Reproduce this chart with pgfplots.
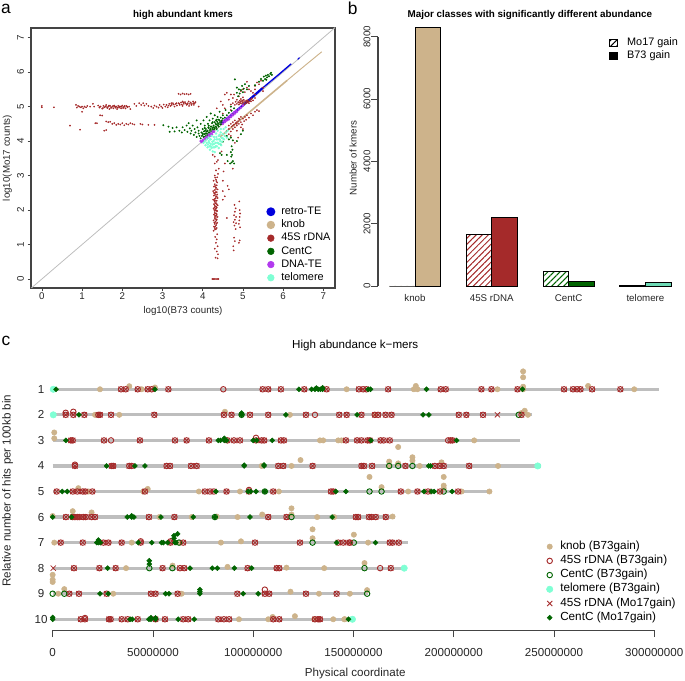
\documentclass[border=0pt]{standalone}
\usepackage{fontspec}
\setmainfont{Liberation Sans}
\usepackage{pgfplots}
\usepackage{pgfplotstable}
\pgfplotsset{compat=1.18}
\usetikzlibrary{patterns.meta}
\definecolor{cblue}{HTML}{0000DD}
\definecolor{cknob}{HTML}{CDB38B}
\definecolor{crdna}{HTML}{A52A2A}
\definecolor{ccent}{HTML}{006400}
\definecolor{cdna}{HTML}{B23AEE}
\definecolor{ctelo}{HTML}{7FFFD4}
\definecolor{cgrey}{HTML}{BEBEBE}
\definecolor{cax}{HTML}{444444}
\newcommand\fs[1]{\fontsize{#1}{#1}\selectfont}
\tikzset{hatch/.style={pattern={Lines[angle=45,distance=3.2pt,line width=0.75pt]}, pattern color=#1}}
\pgfplotsset{
  every axis title shift=0pt,
  bigleg/.style={legend image code/.code={\fill[#1] (0pt,0pt) circle (2.5pt);}},
  mkleg/.style={legend image code/.code={\draw[##1] plot coordinates {(0pt,0pt)};}},
  barb/.style={ybar, bar shift=0pt, bar width=19.2pt, forget plot, draw=black, line width=0.7pt},
  rdnao/.style={only marks, mark=o, mark size=2.05pt, line width=0.7pt, color=crdna},
  rdnax/.style={only marks, mark=x, mark size=2.75pt, line width=0.6pt, color=crdna},
  centd/.style={only marks, mark=square*, mark size=1.3pt, mark options={rotate=45}, color=ccent},
}
% panel c: positions in Mb, y = chromosome row (stacked hits sit above the row)
\pgfplotstableread[row sep=\\]{x y\\
34.1 1\\36.4 1\\42.4 1\\47.4 1\\49.4 1\\57.7 1\\104.7 1\\107.5 1\\113.8 1\\125.5 1\\136.6 1\\152.7 1\\154.8 1\\156.5 1\\167.3 1\\193.5 1\\196.0 1\\213.8 1\\218.8 1\\231.8 1\\255.0 1\\259.5 1\\261.5 1\\263.2 1\\269.0 1\\283.1 1\\
6.5 2\\10.3 2\\15.8 2\\22.8 2\\23.6 2\\29.1 2\\50.7 2\\85.4 2\\89.2 2\\98.4 2\\107.5 2\\126.3 2\\142.9 2\\146.6 2\\154.0 2\\160.6 2\\162.3 2\\166.0 2\\169.0 2\\202.5 2\\206.3 2\\214.6 2\\233.8 2\\
9.1 3\\10.0 3\\25.6 3\\43.5 3\\61.0 3\\66.8 3\\77.9 3\\87.2 3\\90.4 3\\93.4 3\\101.4 3\\104.2 3\\105.5 3\\113.8 3\\115.3 3\\146.2 3\\151.8 3\\154.0 3\\157.0 3\\158.2 3\\163.5 3\\165.1 3\\168.1 3\\198.4 3\\199.4 3\\
11.1 4\\29.4 4\\30.2 4\\38.2 4\\39.4 4\\56.8 4\\58.5 4\\69.0 4\\71.8 4\\112.5 4\\115.0 4\\129.6 4\\154.0 4\\155.2 4\\159.3 4\\175.9 4\\190.6 4\\193.0 4\\195.0 4\\207.7 4\\
2.0 5\\10.0 5\\12.3 5\\15.0 5\\16.3 5\\19.8 5\\46.0 5\\75.9 5\\78.4 5\\80.4 5\\86.7 5\\97.9 5\\110.0 5\\138.8 5\\139.9 5\\173.6 5\\181.9 5\\187.2 5\\193.2 5\\202.2 5\\
6.6 6\\10.0 6\\11.1 6\\12.3 6\\13.3 6\\15.3 6\\16.5 6\\19.4 6\\21.1 6\\48.0 6\\60.7 6\\107.5 6\\116.6 6\\151.2 6\\152.3 6\\157.8 6\\159.0 6\\161.1 6\\166.1 6\\
4.0 7\\15.0 7\\25.3 7\\27.8 7\\34.4 7\\43.9 7\\58.8 7\\65.1 7\\100.9 7\\123.3 7\\142.4 7\\144.9 7\\147.9 7\\148.2 7\\168.1 7\\169.5 7\\172.6 7\\
10.6 8\\23.3 8\\31.4 8\\54.8 8\\63.5 8\\65.6 8\\97.2 8\\111.7 8\\113.0 8\\168.6 8\\
8.3 9\\13.1 9\\26.9 9\\49.0 9\\51.3 9\\62.3 9\\92.1 9\\105.8 9\\108.0 9\\126.3 9\\141.6 9\\
14.0 10\\16.1 10\\28.1 10\\28.9 10\\34.4 10\\37.4 10\\42.4 10\\51.3 10\\56.0 10\\65.1 10\\67.6 10\\82.6 10\\85.4 10\\88.0 10\\110.0 10\\113.0 10\\130.8 10\\132.4 10\\133.3 10\\
}\rdnaboth
\begin{document}
\begin{tikzpicture}
\useasboundingbox (0,0) rectangle (513.75pt,510.75pt);
\node[font=\fs{13}] at (4.5pt,504pt) {a};
\node[font=\fs{13}] at (264.5pt,504.5pt) {b};
\node[font=\fs{13}] at (4.5pt,255pt) {c};

% ---------- panel a ----------
\begin{axis}[name=pa, at={(23.25pt,294.75pt)}, scale only axis, width=228pt, height=195pt,
  xmin=-0.27, xmax=7.29, ymin=-0.26, ymax=7.28,
  xtick={0,...,7}, ytick={0,...,7}, xtick pos=bottom, ytick pos=left, tick align=outside,
  major tick length=2.6pt, tick style={color=cax, line width=0.5pt},
  axis line style={color=cax, line width=1pt},
  /pgf/number format/assume math mode=true,
  ticklabel style={font=\fs{7.3}, text=black!85},
  yticklabel style={anchor=center, xshift=-5.25pt, rotate=90},
  xticklabel style={anchor=center, yshift=-3.5pt},
  title={\bfseries high abundant kmers}, title style={font=\fs{7.4}, at={(axis description cs:0.5,1.05)}, anchor=center},
  xlabel={log10(B73 counts)}, xlabel style={font=\fs{7.3}, text=black!85, at={(axis description cs:0.5,-0.088)}, anchor=center},
  ylabel={log10(Mo17 counts)}, ylabel style={font=\fs{7.3}, text=black!85, at={(axis description cs:-0.078,0.5)}, anchor=center},
  legend style={at={(axis description cs:0.7605,0.325)}, anchor=north west, draw=none, fill=none,
    font=\fs{8.2}, row sep=1.9pt, nodes={inner sep=0pt, text height=6pt, text depth=2pt},
    /tikz/column 1/.style={column sep=4.5pt}},
  legend cell align=left]
\addplot[color=cgrey, line width=0.6pt, forget plot] coordinates {(-0.3,-0.3) (7.3,7.3)};
% dense diagonals
\addplot[color=cblue, line width=1.6pt, bigleg=cblue] coordinates {(4.45,4.5) (4.8,4.84) (5.1,5.14) (5.5,5.55)};
\addlegendentry{retro-TE}
\addplot[color=cknob, line width=1.2pt, bigleg=cknob] coordinates {(4.43,4.12) (5.0,4.68) (5.6,5.27) (6.1,5.76)};
\addlegendentry{knob}
\addplot[color=cknob, line width=0.7pt, forget plot] coordinates {(6.1,5.76) (6.5,6.15) (6.96,6.59)};
\addplot[color=cblue, line width=1pt, forget plot] coordinates {(5.5,5.55) (5.9,5.94) (6.2,6.24)};
\addplot[color=cblue, line width=0.8pt, forget plot] coordinates {(6.36,6.37) (6.41,6.42)};
% 45S rDNA: long horizontal and vertical arms, clusters near the diagonal
\addplot[only marks, mark=*, mark size=0.42pt, color=crdna, bigleg=crdna] coordinates {
(0.0,5.02)(0.0,4.98)(0.3,4.98)(0.85,5.05)(0.87,4.97)(0.9,5.02)(0.93,5.0)(0.97,4.98)(1.0,5.0)(1.03,4.95)(1.06,5.0)(1.1,4.98)(1.13,5.02)
(1.2,5.0)(1.27,5.08)(1.3,5.0)(1.4,5.03)(1.43,4.97)(1.46,5.0)(1.5,4.94)(1.53,5.02)(1.56,4.98)(1.6,5.05)(1.63,4.96)(1.66,5.0)(1.68,4.93)(1.7,5.02)
(1.73,4.98)(1.76,5.0)(1.78,4.95)(1.8,5.03)(1.83,4.97)(1.85,5.0)(1.87,4.93)(1.9,5.02)(1.92,4.97)(1.95,5.0)(1.97,4.95)(2.0,5.03)(2.03,4.98)(2.05,5.0)
(2.08,4.95)(2.1,5.02)(2.13,4.98)(2.17,5.0)(2.2,4.93)(2.3,5.08)(2.35,5.02)(2.42,5.1)(2.47,5.05)(2.52,5.1)(2.55,5.03)(2.6,5.08)(2.65,5.02)(2.72,5.0)
(2.77,4.96)(2.8,5.03)(2.85,5.0)(2.9,4.97)(2.93,5.05)(2.97,5.0)(3.0,4.96)(3.03,5.06)(3.07,5.0)(3.1,5.05)(3.13,4.98)(3.17,5.08)(3.2,5.02)(3.23,5.05)
(3.26,5.1)(3.3,5.0)(3.33,5.08)(3.36,5.03)(3.4,5.1)(3.43,5.05)(3.46,5.12)(3.5,5.02)(3.53,5.08)(3.56,5.13)(3.6,5.05)(3.63,5.1)(3.66,5.02)(3.7,5.12)
(3.73,5.08)(3.76,5.15)(3.78,5.05)(3.8,5.1)(3.9,5.0)
(1.45,5.0)(1.52,4.96)(1.58,5.01)(1.62,4.99)(1.67,5.03)(1.72,4.96)(1.77,5.02)(1.82,5.0)(1.88,4.97)(1.93,5.0)(1.98,5.0)(2.02,4.96)(2.06,5.02)(2.12,5.0)
(3.15,5.03)(3.22,5.1)(3.28,5.06)(3.35,5.1)(3.42,5.08)(3.48,5.06)(3.52,5.12)(3.58,5.09)(3.62,5.07)(3.68,5.08)(3.72,5.05)(3.77,5.1)(3.82,5.13)(3.5,5.15)(3.65,5.15)
(3.4,5.37)(3.45,5.35)(3.5,5.38)(3.55,5.36)(3.6,5.37)(3.65,5.35)(3.7,5.37)
(1.45,4.75)(1.5,4.74)(1.33,4.52)(1.37,4.52)(1.6,4.57)(1.65,4.55)(1.7,4.56)(1.75,4.5)(1.8,4.52)(1.85,4.47)(1.9,4.5)(1.95,4.48)(2.0,4.52)(2.05,4.46)
(2.1,4.5)(2.15,4.48)(2.2,4.52)(2.25,4.5)(2.3,4.48)(2.45,4.5)(2.5,4.48)(2.65,4.47)(2.8,4.47)(1.55,4.3)(1.6,4.32)(0.95,4.33)(0.7,4.45)(1.0,4.85)
(4.25,3.6)(4.3,3.55)(4.35,3.4)(4.38,3.45)(4.3,3.35)(4.4,3.2)(4.33,3.15)(4.38,3.05)(4.3,3.0)(4.36,2.95)(4.33,2.88)(4.27,2.85)(4.36,2.8)(4.3,2.75)
(4.35,2.72)(4.28,2.68)(4.33,2.65)(4.37,2.6)(4.3,2.58)(4.26,2.55)(4.35,2.52)(4.3,2.48)(4.36,2.45)(4.28,2.42)(4.33,2.38)(4.37,2.35)(4.3,2.32)(4.26,2.3)
(4.35,2.27)(4.3,2.24)(4.33,2.2)(4.28,2.17)(4.37,2.14)(4.31,2.1)(4.35,2.07)(4.27,2.04)(4.32,2.0)(4.36,1.97)(4.3,1.94)(4.34,1.9)(4.28,1.87)(4.33,1.84)
(4.37,1.8)(4.3,1.77)(4.35,1.73)(4.27,1.7)(4.32,1.66)(4.36,1.63)(4.3,1.6)(4.33,1.56)(4.28,1.52)(4.35,1.48)(4.31,1.44)(4.27,1.4)(4.36,1.3)(4.31,1.22)
(4.35,1.15)(4.33,1.05)(4.37,0.95)(4.3,0.88)(4.35,0.8)(4.38,0.72)(4.32,0.62)(4.37,0.6)(4.24,0.0)(4.27,0.0)(4.3,0.0)(4.33,0.0)(4.36,0.0)(4.39,0.0)
(4.31,2.94)(4.34,2.84)(4.31,2.7)(4.33,2.61)(4.28,2.5)(4.32,2.52)(4.31,2.44)(4.35,2.4)(4.32,2.34)(4.29,2.27)(4.33,2.27)(4.31,2.2)(4.35,2.17)(4.3,2.14)
(4.33,2.1)(4.29,2.07)(4.33,2.04)(4.29,2.0)(4.34,1.98)(4.31,1.9)(4.35,1.86)(4.3,1.83)(4.33,1.8)(4.31,1.74)(4.34,1.7)(4.29,1.64)(4.34,1.6)(4.31,1.52)(4.33,1.45)(4.3,1.48)
(4.47,3.7)(4.55,3.35)(4.52,3.12)(4.75,3.2)(4.5,2.85)(4.62,2.7)(4.65,2.6)(4.5,2.55)(4.55,2.4)(4.5,2.3)(4.6,1.77)
(4.79,2.15)(4.82,2.05)(4.8,1.95)(4.78,1.85)(4.83,1.8)(4.8,1.72)(4.77,1.65)(4.83,1.62)(4.79,1.55)(4.82,1.45)(4.78,1.2)(4.8,1.1)(4.76,0.95)(4.77,0.83)
(4.91,2.25)(4.92,2.0)(4.93,1.9)(4.92,1.8)(4.91,1.7)(4.9,1.6)(4.93,1.5)(4.92,1.12)(4.9,1.05)
(4.7,5.06)(4.75,5.1)(4.8,5.05)(4.82,5.14)(4.85,5.08)(4.88,5.13)(4.9,5.06)(4.93,5.1)(4.95,5.15)(4.98,5.08)(5.0,5.12)(5.03,5.06)(5.05,5.16)(5.08,5.1)
(5.1,5.14)(5.12,5.18)(5.15,5.1)(5.18,5.2)(5.2,5.15)(5.22,5.24)(5.25,5.18)(5.3,5.25)(5.3,5.35)(4.95,5.22)(5.0,5.27)(4.85,5.2)(4.75,5.25)
(4.9,5.12)(4.95,5.1)(5.0,5.16)(5.05,5.1)(5.1,5.18)(5.15,5.15)(5.2,5.2)(4.92,5.17)(4.98,5.18)(5.02,5.2)(5.08,5.16)(5.12,5.12)
(4.55,5.35)(4.6,5.4)(4.65,5.2)(4.7,5.35)(4.45,5.15)(4.5,5.05)(4.9,5.3)(4.55,4.95)(4.7,4.9)(4.5,4.8)(4.35,4.95)(4.78,5.35)
(4.95,5.45)(5.0,5.5)(5.05,5.42)(5.1,5.55)(5.15,5.5)(5.2,5.45)(5.25,5.4)(5.3,5.6)(5.35,5.7)(5.4,5.65)(5.45,5.75)(5.5,5.55)(5.1,5.72)(5.3,5.5)(5.5,5.45)
(4.6,4.3)(4.65,4.35)(4.7,4.28)(4.72,4.42)(4.75,4.35)(4.78,4.48)(4.8,4.4)(4.82,4.52)(4.85,4.45)(4.88,4.58)(4.9,4.5)(4.92,4.62)(4.95,4.55)(4.98,4.48)
(5.0,4.65)(5.03,4.58)(5.05,4.7)(5.08,4.62)(5.1,4.75)(5.15,4.68)(5.2,4.8)(5.25,4.75)(5.3,4.85)(5.35,4.9)(5.4,4.87)(4.85,4.3)(4.55,4.15)(4.7,4.15)(4.95,4.4)
(4.65,4.2)(4.8,3.95)(4.88,4.1)(5.0,4.35)(4.7,4.5)(4.75,4.55)(4.8,4.6)(4.85,4.55)(4.9,4.65)(4.95,4.7)(4.75,4.45)(4.85,4.5)(4.65,4.45)};
\addlegendentry{45S rDNA}
% CentC
\addplot[only marks, mark=*, mark size=0.5pt, color=ccent, bigleg=ccent] coordinates {
(3.02,4.46)(3.18,4.27)(3.15,4.42)(3.25,4.38)(3.3,4.28)(3.35,4.4)(3.42,4.3)(3.48,4.25)(3.5,4.4)(3.55,4.32)(3.6,4.45)(3.62,4.27)(3.65,4.52)(3.68,4.37)
(3.7,4.22)(3.72,4.3)(3.75,4.45)(3.78,4.18)(3.8,4.35)(3.82,4.25)(3.85,4.12)(3.85,4.6)(3.87,4.4)(3.9,4.22)(3.9,4.3)(3.92,4.15)(3.95,4.5)(3.95,4.08)
(3.97,4.25)(4.0,4.35)(4.0,4.18)(4.02,4.6)(4.03,4.28)(4.05,4.12)(4.05,4.45)(4.07,4.22)(4.08,4.35)(4.1,4.7)(4.1,4.28)(4.12,4.18)(4.13,4.5)(4.15,4.38)
(4.15,4.25)(4.17,4.6)(4.18,4.32)(4.2,4.42)(4.2,4.8)(4.22,4.28)(4.23,4.52)(4.25,4.38)(4.25,4.65)(4.27,4.45)(4.28,4.33)(4.3,4.55)(4.3,4.75)(4.32,4.42)
(4.33,4.6)(4.35,4.48)(4.35,4.35)(4.37,4.7)(4.38,4.52)(4.4,4.42)(4.4,4.62)(4.42,4.85)(4.43,4.55)(4.45,4.68)(4.47,4.5)(4.48,4.6)(4.5,4.75)(4.52,4.58)
(4.55,4.68)(4.57,4.9)(4.6,4.75)(4.62,4.62)(4.65,4.82)(4.68,4.7)(4.7,5.0)(4.72,4.88)(4.75,4.78)(4.78,4.95)(4.8,5.79)(4.85,5.4)(4.88,5.3)(4.9,5.5)
(4.85,5.55)(4.92,5.38)(4.95,5.48)(4.98,5.6)(5.0,5.42)(5.02,5.52)(5.05,5.65)(5.1,5.5)(5.15,5.6)(5.3,5.62)(5.4,5.72)(5.45,5.8)(5.5,5.75)(5.52,5.87)(5.55,5.8)
(5.57,5.9)(5.6,5.85)(5.62,5.92)(5.65,5.88)(5.68,5.95)(5.7,5.98)(5.72,5.92)(5.58,5.78)
(3.98,4.15)(4.0,4.22)(4.02,4.12)(4.04,4.2)(4.06,4.3)(4.08,4.15)(4.1,4.22)(4.12,4.3)(4.14,4.4)(4.16,4.2)(4.18,4.26)(4.2,4.35)(4.22,4.42)(4.24,4.32)(4.26,4.27)
(4.28,4.4)(4.3,4.36)(4.32,4.5)(4.34,4.4)(4.36,4.56)(4.38,4.45)(4.4,4.5)(4.42,4.6)(4.44,4.48)(4.46,4.58)(4.48,4.52)(4.5,4.65)(4.15,4.45)(4.25,4.55)(4.35,4.62)(4.05,4.38)
(4.6,4.15)(4.7,4.1)(4.65,4.05)(4.75,4.02)(4.5,3.98)(4.45,3.9)(4.72,3.85)(4.74,3.75)(4.7,3.68)(4.73,3.6)(4.71,3.55)(4.43,3.65)(4.47,3.6)(4.6,3.6)(4.62,3.42)
(4.68,3.35)(4.72,3.38)(4.75,3.42)(4.78,3.35)(4.85,4.0)(4.95,4.2)(5.0,4.3)};
\addlegendentry{CentC}
% DNA-TE
\addplot[only marks, mark=*, mark size=0.8pt, color=cdna, bigleg=cdna] coordinates {
(3.95,4.0)(3.98,3.97)(4.0,4.03)(4.02,4.0)(4.05,4.08)(4.08,4.05)(4.1,4.12)(4.13,4.1)(4.15,4.18)(4.18,4.15)(4.2,4.22)(4.23,4.2)(4.25,4.28)(4.28,4.27)
(4.5,4.5)(4.52,4.58)(4.55,4.55)(4.57,4.62)(4.6,4.6)(4.62,4.67)(4.65,4.63)(4.67,4.72)(4.7,4.7)(4.72,4.78)(4.75,4.75)(4.78,4.83)(4.8,4.8)(4.83,4.88)(4.85,4.85)(4.9,4.92)(4.95,4.97)(5.0,5.03)};
\addlegendentry{DNA-TE}
% telomere
\addplot[only marks, mark=*, mark size=0.7pt, color=ctelo, bigleg=ctelo] coordinates {
(4.02,3.95)(4.05,4.0)(4.07,3.88)(4.1,3.95)(4.1,4.05)(4.12,3.82)(4.13,3.9)(4.15,4.0)(4.15,4.1)(4.17,3.85)(4.18,3.75)(4.2,3.92)(4.2,4.05)(4.22,4.15)
(4.22,3.8)(4.25,3.7)(4.25,3.9)(4.27,4.0)(4.28,4.12)(4.3,3.82)(4.3,3.68)(4.32,3.95)(4.33,4.22)(4.35,4.05)(4.35,3.85)(4.37,4.3)(4.38,3.95)(4.4,4.15)
(4.4,3.8)(4.42,4.05)(4.43,3.92)(4.45,4.25)(4.45,4.35)(4.47,4.1)(4.48,3.98)(4.5,4.2)(4.52,4.35)(4.53,4.05)(4.55,4.15)(4.57,4.4)(4.58,4.25)(4.6,4.1)(4.62,4.3)
(4.16,3.95)(4.18,4.05)(4.2,3.85)(4.24,3.98)(4.26,3.82)(4.28,3.92)(4.3,4.05)(4.32,3.85)(4.34,4.12)(4.36,3.95)(4.38,4.05)(4.4,3.92)(4.42,4.18)(4.44,4.0)(4.46,3.88)(4.5,4.08)};
\addlegendentry{telomere}
\end{axis}

% ---------- panel b ----------
\begin{axis}[name=pb, at={(283.5pt,296.25pt)}, scale only axis, width=226.5pt, height=187pt, clip=false,
  xmin=-1.445, xmax=10.35, ymin=0, ymax=8000,
  axis x line*=bottom, axis y line*=left,
  x axis line style={draw=none},
  xtick={0,3,6,9}, xticklabels={knob,45S rDNA,CentC,telomere}, xtick style={draw=none},
  ytick={0,2000,4000,6000,8000},
  major tick length=5pt, tick align=outside, ytick style={color=cax, line width=0.6pt},
  y axis line style={color=cax, line width=0.8pt},
  /pgf/number format/assume math mode=true, /pgf/number format/1000 sep={},
  ticklabel style={font=\fs{7.3}, text=black!85},
  yticklabel style={anchor=center, xshift=-3.2pt, rotate=90},
  xticklabel style={anchor=center, yshift=-4pt},
  title={\bfseries Major classes with significantly different abundance}, title style={font=\fs{7.4}, at={(axis description cs:0.503,1.087)}, anchor=center},
  ylabel={Number of kmers}, ylabel style={font=\fs{7.3}, text=black!85, at={(axis description cs:-0.082,0.513)}, anchor=center},
  legend style={at={(axis description cs:0.75,1.008)}, anchor=north west, draw=none, fill=none,
    font=\fs{8.15}, row sep=1.9pt, nodes={inner sep=0pt, text height=6pt, text depth=2pt},
    /tikz/column 1/.style={column sep=7pt}},
  legend cell align=left]
\addlegendimage{legend image code/.code={\draw[black, line width=0.5pt, hatch=black] (0pt,-2.6pt) rectangle (6.3pt,2.6pt);}}
\addlegendentry{Mo17 gain}
\addlegendimage{legend image code/.code={\fill[black] (0pt,-2.6pt) rectangle (6.3pt,2.6pt);}}
\addlegendentry{B73 gain}
\addplot[barb, hatch=cknob] coordinates {(-0.5,0)};
\addplot[barb, fill=cknob] coordinates {(0.5,8290)};
\addplot[barb, hatch=crdna] coordinates {(2.5,1658)};
\addplot[barb, fill=crdna] coordinates {(3.5,2204)};
\addplot[barb, hatch=ccent] coordinates {(5.5,481)};
\addplot[barb, fill=ccent] coordinates {(6.5,138)};
\addplot[barb, hatch=ctelo] coordinates {(8.5,5)};
\addplot[barb, fill=ctelo!85!black] coordinates {(9.5,120)};
\end{axis}

% ---------- panel c ----------
\begin{axis}[name=pc, at={(39.5pt,38.25pt)}, scale only axis, width=451.2pt, height=199.7pt, clip=false,
  xmin=0, xmax=300, ymin=0, ymax=10.42, y dir=reverse,
  axis x line*=bottom, axis y line*=left,
  y axis line style={draw=none}, ytick style={draw=none},
  x axis line style={color=cax, line width=0.6pt}, xtick style={color=cax, line width=0.6pt},
  xtick={0,50,100,150,200,250,300},
  xticklabels={0,50000000,100000000,150000000,200000000,250000000,300000000},
  ytick={1,...,10},
  major tick length=5.25pt, tick align=outside,
  /pgf/number format/assume math mode=true,
  ticklabel style={font=\fs{8.7}, text=black!85},
  xticklabel style={anchor=center, yshift=-11.5pt},
  yticklabel style={anchor=center, xshift=-3.4pt},
  title={High abundance k−mers}, title style={font=\fs{8.7}, at={(axis description cs:0.503,1.0676)}, anchor=center},
  xlabel={Physical coordinate}, xlabel style={font=\fs{8.7}, text=black!85, at={(axis description cs:0.503,-0.1615)}, anchor=center},
  ylabel={Relative number of hits per 100kb bin}, ylabel style={font=\fs{8.7}, text=black!85, at={(axis description cs:-0.075,0.523)}, anchor=center},
  legend style={at={(axis description cs:0.8138,0.344)}, anchor=north west, draw=none, fill=none,
    font=\fs{8.8}, row sep=2.65pt, nodes={inner sep=0pt, text height=6pt, text depth=2pt},
    /tikz/column 1/.style={column sep=5.5pt}},
  legend cell align=left]
% chromosome tracks
\addplot[cgrey, line width=2.4pt, forget plot] coordinates {(0,1) (302.2,1)};
\addplot[cgrey, line width=2.4pt, forget plot] coordinates {(0,2) (238.8,2)};
\addplot[cgrey, line width=2.4pt, forget plot] coordinates {(0,3) (233,3)};
\addplot[cgrey, line width=2.4pt, forget plot] coordinates {(0,4) (243.4,4)};
\addplot[cgrey, line width=2.4pt, forget plot] coordinates {(0,5) (219,5)};
\addplot[cgrey, line width=2.4pt, forget plot] coordinates {(0,6) (170.6,6)};
\addplot[cgrey, line width=2.4pt, forget plot] coordinates {(0,7) (177.3,7)};
\addplot[cgrey, line width=2.4pt, forget plot] coordinates {(0,8) (175.6,8)};
\addplot[cgrey, line width=2.4pt, forget plot] coordinates {(0,9) (157.3,9)};
\addplot[cgrey, line width=2.4pt, forget plot] coordinates {(0,10) (150.7,10)};
% knob (B73gain)
\addplot[only marks, mark=*, mark size=2pt, color=cknob, mkleg] coordinates {
(23.6,1)(38.2,0.88)(44.4,1)(51.0,0.93)(146.6,1)(181.1,0.87)(180.1,1)(181.9,1)(221.8,1)(234.6,1)(234.6,0.9)(234.6,0.53)(234.6,0.30)(267,0.87)(290,1)
(21.1,2)(33.2,2)(85.9,1.88)(118.3,2)(160.6,2)(235.4,1.84)(237,2)(233.8,1.93)
(0.8,2.92)(0.8,2.69)(133.3,3)(134.9,3)(142.4,3)(144,3)(210.2,3)
(104.2,4)(119.1,4)(123.6,3.77)(167.8,3.83)(167.8,4)(172.3,3.9)(179.4,3.66)(179.4,3.79)(183,4)(193.9,3.86)(222.1,4)(172.3,3.26)
(12.8,4.87)(17.8,5)(47.4,4.9)(45.2,5)(72.9,5)(93.4,5)(112.8,5)(158,4.43)(164,4.83)(177.3,5)(195,4.43)(195,4.77)(195,4.87)(203.9,5)(217.8,5)
(0,5.96)(10,5.77)(19.4,5.82)(53.2,6)(69.3,6)(81.8,5.98)(92.2,6)(104.5,5.9)(119.1,5.66)(119.1,5.9)(131.9,6)(140.4,6)(169.5,5.98)
(0.8,7)(39.4,7)(83.9,7)(93.9,6.95)(63.5,7)(129.6,6.48)(129.6,6.83)(150.2,6.69)(157.3,7)
(36.6,8)(59.8,7.9)(87.2,7.95)(116.6,7.98)(135.4,8)(155.5,7.8)
(2.8,9)(5.8,8.82)(30.2,9)(64.3,9)(0,8.26)(0,8.45)(0,8.54)(118.6,8.92)(132.8,9)(148.2,9)(156.8,8.86)
(92.9,10)(107.5,10)(109.7,9.91)(120.8,9.88)(130.4,10)(139.9,10)(145.4,10)(145.7,10)};
\addlegendentry{knob (B73gain)}
% 45S rDNA (B73gain)
\addplot[rdnao, mkleg] table {\rdnaboth};
\addlegendentry{45S rDNA (B73gain)}
\addplot[rdnao, forget plot] coordinates {
(85.1,1)(6.5,1.92)(10.3,1.88)(130.8,2)(29.1,3)(197.2,3)(101.4,2.9)(11.1,3.95)(97.9,4.94)(43.9,6.95)(58.8,6.95)(163.3,8)(105.8,8.84)(16.1,9.95)};
% CentC (B73gain)
\addplot[only marks, mark=o, mark size=2.05pt, line width=0.7pt, color=ccent, mkleg] coordinates {
(232.4,2)(94.2,2)(167.8,4)(172.3,4)(179.4,4)(105.8,5)(158,5)(164,5)(195,5)(119.1,6)(80.9,6)(129.6,7)(63,7)(150.2,7)(48.2,8)(59.7,8)(155.5,8)(0,9)(5.8,9)(156.8,9)};
\addlegendentry{CentC (B73gain)}
% telomere (B73gain)
\addplot[only marks, mark=*, mark size=2.4pt, color=ctelo, mkleg] coordinates {
(0.3,1)(0.3,2)(241.9,4)(175.3,8)(149.5,10)};
\addlegendentry{telomere (B73gain)}
% 45S rDNA (Mo17gain)
\addplot[rdnax, mkleg] table {\rdnaboth};
\addlegendentry{45S rDNA (Mo17gain)}
\addplot[rdnax, forget plot] coordinates {
(221.8,2)(0.3,8)};
% CentC (Mo17gain)
\addplot[centd, mkleg] coordinates {
(1.7,1)(51,1)(122.8,1)(129.1,1)(130.8,1)(131.5,0.95)(132.4,1)(133.5,1)(134.6,1)(134.6,0.94)(157.3,1)(158.5,1)(186.4,1)(234.3,1)
(13.1,2)(116.3,2)(94.2,1.93)(94.2,2)(151.8,2)(184.7,2)(187.6,2)
(6.6,3)(82.6,3)(83.7,3)(85.6,3)(85.6,2.92)(86.7,3)(100,3)(101.7,3)(109.5,3)(158.7,3)(201.4,3)
(26.9,4)(41,4)(46,4)(95.5,4)(95.5,3.97)(105.4,4)(105.4,3.96)(187.5,4)(188.5,4)
(4.8,5)(7.3,5)(81.4,5)(97.5,5)(98.7,5)(101.4,5)(105.8,5)(141.2,5)(146.2,5)(185.2,5)(188.9,5)(190.2,5)(199.2,5)
(0,6)(9.5,6)(37.2,6)(39.4,6)(39.4,5.95)(40.5,6)(54,6)(70.1,6)(80.9,6)(98.4,6)(139.4,6)
(22.8,6.9)(22,7)(23.8,7)(22.8,7)(42.7,7)(49.4,7)(54.3,7)(55.2,7)(57.3,7)(61,7)(61.5,7)(60.5,6.83)(60.5,6.73)(62.3,6.66)(141.6,7)(161,7)
(27.4,8)(48.2,7.71)(48.2,7.84)(68.5,8)(79.6,8)(82.1,8)(90.6,8)(99.2,8)
(23.6,9)(27.7,9)(56.3,9)(58,9)(73.4,8.84)(73.4,8.92)(73.4,9)(95,9)(102.5,9)
(0,10)(0,9.93)(38.6,10)(39.7,10)(48,10)(49,10)(49,9.94)(51.3,9.95)(51.3,10)(62.6,10)(70.6,10)(147.5,10)};
\addlegendentry{CentC (Mo17gain)}
\end{axis}
\end{tikzpicture}
\end{document}
